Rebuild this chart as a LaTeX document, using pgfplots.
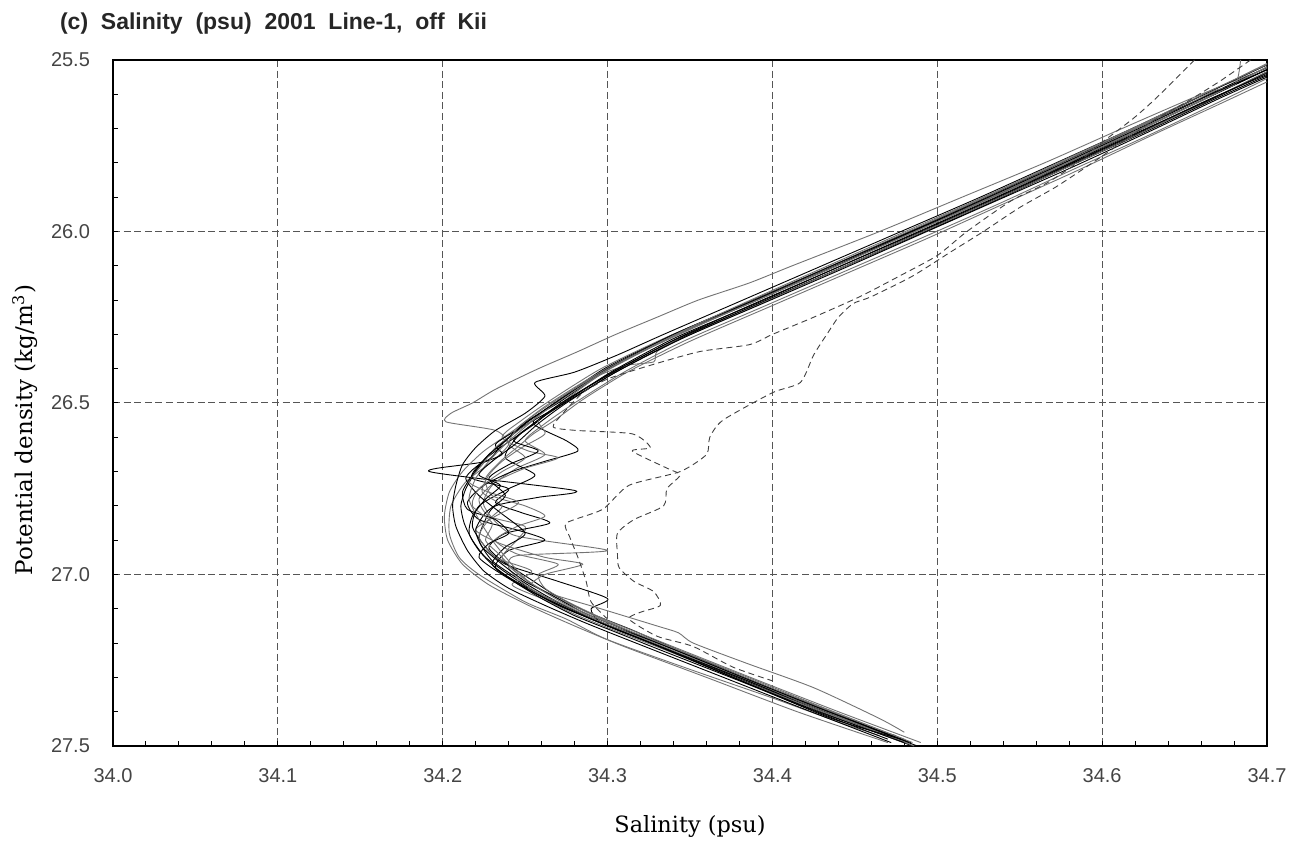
\documentclass[border=0pt]{standalone}
\usepackage{pgfplots}
\pgfplotsset{compat=1.18}
\usepackage{fontspec}
\setmainfont{Liberation Sans}
\newfontfamily\seriffont{DejaVu Serif}
\definecolor{gridc}{HTML}{555555}
\definecolor{tickc}{HTML}{444444}
\begin{document}
\begin{tikzpicture}
\begin{axis}[
  width=577pt, height=343pt, scale only axis,
  xmin=34, xmax=34.7, ymin=25.5, ymax=27.5, y dir=reverse,
  xtick={34,34.1,34.2,34.3,34.4,34.5,34.6,34.7},
  ytick={25.5,26,26.5,27,27.5},
  minor x tick num=4, minor y tick num=4,
  xtick pos=bottom, ytick pos=left,
  tick align=inside,
  major tick length=2.5pt, minor tick length=2.5pt,
  tick style={black, line width=0.5pt},
  axis line style={black, line width=1pt},
  grid=major,
  major grid style={gridc, line width=0.5pt, dash pattern=on 3.5pt off 1.8pt},
  /pgf/number format/.cd, fixed, fixed zerofill, precision=1, assume math mode=true,
  /pgfplots/.cd,
  ticklabel style={font=\fontsize{10}{12}\selectfont, text=tickc},
  xticklabel style={yshift=-7.5pt},
  yticklabel style={xshift=-8pt},
  clip mode=individual,
  every axis plot/.append style={line width=0.45pt, line join=round, smooth, tension=0.4},
]
% solid profiles
\addplot[black] coordinates {(34.712,25.50)(34.668,25.60)(34.624,25.70)(34.579,25.80)(34.533,25.90)(34.486,26.00)(34.438,26.10)(34.391,26.20)(34.342,26.30)(34.301,26.40)(34.270,26.50)(34.252,26.55)(34.240,26.60)(34.228,26.65)(34.220,26.70)(34.214,26.75)(34.211,26.80)(34.213,26.85)(34.218,26.90)(34.226,26.95)(34.240,27.00)(34.256,27.05)(34.278,27.10)(34.302,27.15)(34.328,27.20)(34.378,27.30)(34.430,27.40)(34.485,27.50)};
\addplot[black!55] coordinates {(34.702,25.52)(34.660,25.60)(34.612,25.70)(34.565,25.80)(34.515,25.90)(34.465,26.00)(34.412,26.10)(34.386,26.15)(34.355,26.20)(34.330,26.25)(34.305,26.30)(34.282,26.35)(34.258,26.40)(34.232,26.46)(34.218,26.50)(34.205,26.53)(34.202,26.555)(34.232,26.58)(34.240,26.62)(34.230,26.67)(34.214,26.73)(34.205,26.80)(34.204,26.88)(34.210,26.95)(34.222,27.00)(34.250,27.08)(34.275,27.13)(34.300,27.19)(34.352,27.28)(34.400,27.36)(34.440,27.43)(34.465,27.47)};
\addplot[black] coordinates {(34.705,25.51)(34.665,25.60)(34.620,25.70)(34.575,25.80)(34.530,25.90)(34.483,26.00)(34.436,26.10)(34.388,26.20)(34.340,26.30)(34.298,26.40)(34.268,26.50)(34.250,26.56)(34.236,26.62)(34.226,26.67)(34.192,26.70)(34.280,26.755)(34.258,26.775)(34.232,26.80)(34.225,26.85)(34.222,26.90)(34.230,26.96)(34.245,27.01)(34.262,27.06)(34.282,27.11)(34.305,27.16)(34.332,27.21)(34.380,27.30)(34.432,27.40)(34.488,27.50)};
\addplot[black!55] coordinates {(34.710,25.53)(34.672,25.62)(34.628,25.72)(34.582,25.82)(34.537,25.92)(34.490,26.02)(34.442,26.12)(34.394,26.22)(34.346,26.32)(34.310,26.41)(34.280,26.50)(34.262,26.56)(34.250,26.61)(34.262,26.65)(34.245,26.69)(34.230,26.74)(34.225,26.80)(34.243,26.885)(34.300,26.93)(34.245,26.945)(34.240,26.98)(34.250,27.03)(34.268,27.08)(34.290,27.13)(34.318,27.18)(34.342,27.23)(34.386,27.31)(34.436,27.41)(34.482,27.49)};
\addplot[black] coordinates {(34.708,25.51)(34.664,25.61)(34.620,25.71)(34.576,25.81)(34.528,25.91)(34.480,26.01)(34.434,26.11)(34.385,26.21)(34.337,26.31)(34.296,26.41)(34.265,26.51)(34.255,26.56)(34.275,26.61)(34.282,26.64)(34.262,26.67)(34.242,26.70)(34.225,26.74)(34.215,26.79)(34.222,26.84)(34.245,26.87)(34.262,26.90)(34.240,26.93)(34.232,26.98)(34.248,27.03)(34.270,27.09)(34.296,27.14)(34.325,27.19)(34.372,27.28)(34.425,27.38)(34.478,27.48)};
\addplot[black!55] coordinates {(34.700,25.52)(34.655,25.63)(34.610,25.73)(34.566,25.83)(34.520,25.93)(34.472,26.03)(34.425,26.13)(34.376,26.23)(34.330,26.33)(34.292,26.42)(34.262,26.51)(34.243,26.58)(34.225,26.64)(34.212,26.70)(34.204,26.76)(34.201,26.83)(34.203,26.90)(34.212,26.97)(34.228,27.03)(34.252,27.09)(34.280,27.15)(34.310,27.21)(34.360,27.30)(34.415,27.40)(34.470,27.49)};
\addplot[black] coordinates {(34.712,25.52)(34.670,25.61)(34.626,25.71)(34.580,25.81)(34.535,25.91)(34.488,26.01)(34.440,26.11)(34.392,26.21)(34.345,26.31)(34.305,26.41)(34.274,26.50)(34.258,26.55)(34.245,26.60)(34.238,26.66)(34.256,26.71)(34.240,26.75)(34.222,26.80)(34.218,26.86)(34.226,26.92)(34.238,26.97)(34.270,27.02)(34.300,27.07)(34.290,27.10)(34.296,27.14)(34.322,27.19)(34.348,27.24)(34.390,27.32)(34.440,27.42)(34.475,27.47)};
\addplot[black!55] coordinates {(34.700,25.51)(34.658,25.61)(34.616,25.71)(34.572,25.81)(34.526,25.91)(34.478,26.01)(34.432,26.11)(34.384,26.21)(34.335,26.31)(34.296,26.40)(34.266,26.49)(34.248,26.55)(34.236,26.60)(34.252,26.64)(34.270,26.66)(34.250,26.69)(34.232,26.73)(34.222,26.78)(34.228,26.83)(34.250,26.86)(34.245,26.90)(34.236,26.95)(34.246,27.00)(34.262,27.05)(34.296,27.10)(34.330,27.15)(34.343,27.17)(34.352,27.20)(34.385,27.26)(34.425,27.33)(34.465,27.42)(34.480,27.46)};
\addplot[black] coordinates {(34.706,25.52)(34.664,25.62)(34.620,25.72)(34.575,25.82)(34.529,25.92)(34.482,26.02)(34.435,26.12)(34.387,26.22)(34.339,26.32)(34.300,26.42)(34.272,26.50)(34.256,26.56)(34.244,26.60)(34.232,26.64)(34.222,26.68)(34.218,26.72)(34.240,26.75)(34.232,26.79)(34.248,26.82)(34.265,26.85)(34.238,26.88)(34.228,26.92)(34.236,26.96)(34.252,27.01)(34.268,27.06)(34.288,27.11)(34.314,27.16)(34.338,27.21)(34.383,27.30)(34.434,27.40)(34.483,27.49)};
\addplot[black!55] coordinates {(34.715,25.53)(34.675,25.62)(34.630,25.72)(34.586,25.82)(34.540,25.92)(34.494,26.02)(34.446,26.12)(34.398,26.22)(34.350,26.32)(34.312,26.41)(34.285,26.49)(34.268,26.55)(34.255,26.59)(34.245,26.63)(34.235,26.67)(34.226,26.72)(34.230,26.77)(34.250,26.80)(34.262,26.83)(34.245,26.86)(34.232,26.90)(34.245,26.94)(34.270,26.97)(34.258,27.00)(34.262,27.04)(34.276,27.08)(34.298,27.13)(34.324,27.18)(34.350,27.23)(34.392,27.31)(34.440,27.40)(34.490,27.49)};
\addplot[black] coordinates {(34.702,25.51)(34.662,25.60)(34.618,25.70)(34.572,25.80)(34.526,25.90)(34.478,26.00)(34.430,26.10)(34.382,26.20)(34.334,26.30)(34.306,26.36)(34.280,26.41)(34.256,26.44)(34.262,26.48)(34.250,26.53)(34.232,26.58)(34.220,26.63)(34.212,26.68)(34.208,26.74)(34.206,26.80)(34.208,26.86)(34.215,26.93)(34.225,26.99)(34.240,27.04)(34.262,27.09)(34.286,27.14)(34.312,27.19)(34.365,27.29)(34.418,27.39)(34.472,27.49)};
\addplot[black!55] coordinates {(34.710,25.51)(34.668,25.61)(34.625,25.71)(34.580,25.81)(34.534,25.91)(34.487,26.01)(34.440,26.11)(34.393,26.21)(34.346,26.31)(34.330,26.35)(34.328,26.38)(34.312,26.39)(34.295,26.42)(34.272,26.50)(34.258,26.55)(34.262,26.59)(34.248,26.63)(34.236,26.67)(34.228,26.71)(34.224,26.76)(34.236,26.80)(34.228,26.84)(34.222,26.89)(34.232,26.95)(34.254,26.99)(34.242,27.03)(34.260,27.07)(34.282,27.12)(34.308,27.17)(34.335,27.22)(34.382,27.31)(34.430,27.40)(34.480,27.49)};
\addplot[black] coordinates {(34.708,25.52)(34.668,25.61)(34.622,25.71)(34.577,25.81)(34.531,25.91)(34.484,26.01)(34.437,26.11)(34.390,26.21)(34.341,26.31)(34.302,26.41)(34.270,26.51)(34.248,26.57)(34.232,26.62)(34.236,26.65)(34.222,26.68)(34.214,26.72)(34.222,26.77)(34.235,26.82)(34.250,26.88)(34.238,26.92)(34.230,26.97)(34.243,27.02)(34.260,27.07)(34.280,27.12)(34.306,27.17)(34.332,27.22)(34.380,27.31)(34.432,27.41)(34.470,27.48)};
\addplot[black!55] coordinates {(34.704,25.51)(34.664,25.61)(34.620,25.71)(34.574,25.81)(34.528,25.91)(34.482,26.01)(34.434,26.11)(34.386,26.21)(34.338,26.31)(34.298,26.41)(34.266,26.51)(34.246,26.58)(34.232,26.63)(34.224,26.68)(34.216,26.73)(34.228,26.76)(34.246,26.79)(34.232,26.83)(34.220,26.87)(34.235,26.91)(34.262,26.95)(34.285,26.97)(34.262,27.00)(34.252,27.04)(34.270,27.08)(34.292,27.13)(34.318,27.18)(34.344,27.23)(34.388,27.31)(34.438,27.41)(34.486,27.50)};
\addplot[black!55] coordinates {(34.684,25.50)(34.681,25.57)(34.668,25.59)(34.648,25.64)(34.610,25.72)(34.570,25.81)(34.524,25.91)(34.478,26.01)(34.431,26.11)(34.384,26.21)(34.337,26.31)(34.299,26.40)(34.268,26.50)(34.250,26.57)(34.238,26.62)(34.228,26.67)(34.220,26.72)(34.216,26.78)(34.222,26.84)(34.230,26.90)(34.240,26.96)(34.252,27.02)(34.270,27.07)(34.292,27.12)(34.316,27.17)(34.342,27.22)(34.388,27.31)(34.436,27.40)(34.480,27.48)};
\addplot[black] coordinates {(34.711,25.52)(34.667,25.61)(34.623,25.71)(34.578,25.81)(34.532,25.91)(34.485,26.01)(34.437,26.11)(34.389,26.21)(34.343,26.31)(34.303,26.41)(34.272,26.50)(34.255,26.56)(34.243,26.61)(34.258,26.64)(34.240,26.68)(34.228,26.72)(34.238,26.77)(34.226,26.82)(34.220,26.87)(34.224,26.92)(34.236,26.97)(34.250,27.02)(34.266,27.06)(34.285,27.11)(34.310,27.16)(34.336,27.21)(34.382,27.30)(34.434,27.40)(34.484,27.49)};
\addplot[black] coordinates {(34.709,25.51)(34.666,25.60)(34.622,25.70)(34.577,25.80)(34.531,25.90)(34.484,26.00)(34.436,26.10)(34.389,26.20)(34.340,26.30)(34.300,26.40)(34.268,26.50)(34.250,26.56)(34.238,26.61)(34.226,26.66)(34.218,26.71)(34.212,26.76)(34.215,26.81)(34.232,26.84)(34.240,26.88)(34.228,26.91)(34.222,26.95)(34.236,27.00)(34.254,27.05)(34.276,27.10)(34.300,27.15)(34.326,27.20)(34.376,27.30)(34.428,27.40)(34.480,27.49)};
\addplot[black!55] coordinates {(34.706,25.50)(34.670,25.58)(34.627,25.68)(34.582,25.78)(34.537,25.88)(34.490,25.98)(34.443,26.08)(34.396,26.18)(34.350,26.28)(34.308,26.38)(34.276,26.47)(34.260,26.52)(34.246,26.57)(34.240,26.62)(34.250,26.66)(34.236,26.70)(34.222,26.75)(34.218,26.80)(34.230,26.85)(34.226,26.90)(34.234,26.94)(34.244,26.99)(34.258,27.04)(34.276,27.09)(34.300,27.14)(34.327,27.19)(34.380,27.29)(34.432,27.39)(34.485,27.49)};
\addplot[black] coordinates {(34.714,25.52)(34.672,25.61)(34.628,25.71)(34.583,25.81)(34.536,25.91)(34.489,26.01)(34.442,26.11)(34.394,26.21)(34.346,26.31)(34.305,26.41)(34.275,26.50)(34.258,26.56)(34.244,26.62)(34.230,26.67)(34.222,26.71)(34.235,26.74)(34.226,26.78)(34.218,26.83)(34.216,26.88)(34.222,26.93)(34.232,26.98)(34.247,27.03)(34.266,27.08)(34.290,27.13)(34.316,27.18)(34.342,27.23)(34.386,27.32)(34.436,27.42)(34.478,27.48)};
% dashed profiles
\addplot[black!75, dash pattern=on 3pt off 2pt] coordinates {(34.656,25.50)(34.633,25.61)(34.619,25.67)(34.600,25.74)(34.585,25.80)(34.566,25.86)(34.545,25.91)(34.518,26.00)(34.500,26.07)(34.477,26.13)(34.453,26.19)(34.425,26.25)(34.400,26.30)(34.386,26.33)(34.356,26.35)(34.326,26.39)(34.300,26.43)(34.285,26.47)(34.273,26.53)(34.267,26.57)(34.281,26.58)(34.315,26.59)(34.326,26.63)(34.315,26.64)(34.336,26.69)(34.344,26.71)(34.336,26.75)(34.334,26.80)(34.316,26.84)(34.306,26.88)(34.306,26.94)(34.307,26.98)(34.316,27.02)(34.328,27.05)(34.332,27.09)(34.320,27.11)(34.313,27.13)(34.330,27.18)(34.352,27.21)(34.376,27.27)(34.400,27.31)};
\addplot[black!75, dash pattern=on 3pt off 2pt] coordinates {(34.690,25.50)(34.672,25.56)(34.652,25.62)(34.630,25.68)(34.612,25.74)(34.594,25.80)(34.572,25.87)(34.550,25.93)(34.528,26.00)(34.508,26.06)(34.485,26.13)(34.460,26.19)(34.449,26.21)(34.440,26.25)(34.433,26.30)(34.425,26.36)(34.417,26.44)(34.400,26.47)(34.370,26.55)(34.362,26.60)(34.360,26.65)(34.344,26.70)(34.313,26.74)(34.297,26.81)(34.275,26.85)(34.277,26.89)(34.282,26.95)(34.287,27.02)(34.290,27.08)(34.300,27.13)};
% labels and title
\node[anchor=base west, font=\fontsize{11.5}{13}\selectfont\bfseries, text=black!85, xshift=-30pt, yshift=15pt] at (rel axis cs:0,1) {(c)\ \ Salinity\ \ (psu)\ \ 2001\ \ Line-1,\ \ off\ \ Kii};
\node[font=\seriffont\fontsize{11.2}{13}\selectfont, yshift=-40pt] at (rel axis cs:0.5,0) {Salinity (psu)};
\node[font=\seriffont\fontsize{11.5}{13}\selectfont, rotate=90, xshift=-13.5pt, yshift=44pt] at (rel axis cs:0,0.5) {Potential density (kg/m\textsuperscript{3})};
\end{axis}
\pgfresetboundingbox
\path[use as bounding box] ([xshift=-56.5pt,yshift=-48.5pt]current axis.south west) rectangle ([xshift=13.5pt,yshift=30pt]current axis.north east);
\end{tikzpicture}
\end{document}
